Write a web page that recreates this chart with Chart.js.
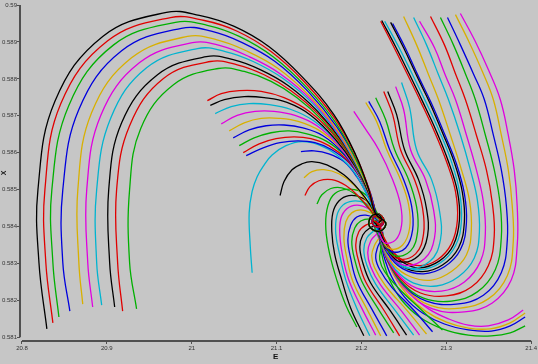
<!DOCTYPE html>
<html><head><meta charset="utf-8">
<script src="https://cdn.jsdelivr.net/npm/chart.js@4.4.1/dist/chart.umd.min.js"></script>
<style>html,body{margin:0;padding:0;background:#c6c6c6;}canvas{display:block;}</style>
</head><body>
<canvas id="c" width="538" height="364"></canvas>
<script>
const E_TICKS = [20.8, 20.9, 21.0, 21.1, 21.2, 21.3, 21.4];
const X_TICKS = [0.581, 0.582, 0.583, 0.584, 0.585, 0.586, 0.587, 0.588, 0.589, 0.59];

// Big arches on the left
const arches = [
[[20.8293,0.58123],[20.8200,0.58302],[20.8188,0.58500],[20.8388,0.58739],[20.8951,0.58915],[20.9702,0.58980],[21.0090,0.58972],[21.0501,0.58942],[21.0912,0.58887],[21.1299,0.58806],[21.1675,0.58703],[21.1933,0.58594],[21.2086,0.58500],[21.2168,0.58434]],
[[20.8364,0.58139],[20.8281,0.58302],[20.8270,0.58500],[20.8458,0.58733],[20.9010,0.58903],[20.9750,0.58966],[21.0149,0.58958],[21.0536,0.58929],[21.0935,0.58874],[21.1323,0.58793],[21.1686,0.58693],[21.1945,0.58586],[21.2098,0.58495],[21.2168,0.58431]],
[[20.8435,0.58155],[20.8364,0.58302],[20.8352,0.58500],[20.8552,0.58728],[20.9080,0.58892],[20.9808,0.58953],[21.0184,0.58945],[21.0560,0.58915],[21.0959,0.58860],[21.1346,0.58779],[21.1698,0.58681],[21.1945,0.58578],[21.2098,0.58492],[21.2168,0.58429]],
[[20.8564,0.58171],[20.8481,0.58302],[20.8481,0.58500],[20.8670,0.58717],[20.9174,0.58876],[20.9878,0.58937],[21.0230,0.58929],[21.0595,0.58898],[21.0982,0.58847],[21.1370,0.58766],[21.1710,0.58670],[21.1957,0.58573],[21.2109,0.58489],[21.2180,0.58429]],
[[20.8716,0.58190],[20.8670,0.58302],[20.8658,0.58500],[20.8821,0.58709],[20.9291,0.58857],[20.9949,0.58915],[21.0289,0.58906],[21.0642,0.58876],[21.1018,0.58828],[21.1394,0.58752],[21.1722,0.58659],[21.1957,0.58565],[21.2109,0.58484],[21.2180,0.58426]],
[[20.8833,0.58182],[20.8775,0.58302],[20.8763,0.58500],[20.8928,0.58701],[20.9386,0.58844],[21.0008,0.58898],[21.0337,0.58890],[21.0677,0.58860],[21.1041,0.58814],[21.1417,0.58741],[21.1734,0.58651],[21.1969,0.58559],[21.2109,0.58481],[21.2180,0.58426]],
[[20.8939,0.58187],[20.8880,0.58302],[20.8880,0.58500],[20.9045,0.58693],[20.9468,0.58830],[21.0067,0.58882],[21.0395,0.58874],[21.0724,0.58847],[21.1076,0.58801],[21.1441,0.58730],[21.1746,0.58643],[21.1969,0.58554],[21.2121,0.58478],[21.2180,0.58423]],
[[20.9092,0.58182],[20.9033,0.58302],[20.9022,0.58500],[20.9174,0.58681],[20.9597,0.58811],[21.0172,0.58860],[21.0489,0.58852],[21.0807,0.58825],[21.1135,0.58782],[21.1476,0.58714],[21.1769,0.58632],[21.1981,0.58546],[21.2121,0.58472],[21.2192,0.58423]],
[[20.9186,0.58171],[20.9127,0.58302],[20.9115,0.58500],[20.9268,0.58673],[20.9667,0.58801],[21.0219,0.58847],[21.0536,0.58838],[21.0854,0.58811],[21.1170,0.58768],[21.1499,0.58703],[21.1781,0.58624],[21.1992,0.58540],[21.2133,0.58469],[21.2192,0.58421]],
[[20.9350,0.58177],[20.9268,0.58302],[20.9268,0.58500],[20.9398,0.58665],[20.9785,0.58784],[21.0313,0.58828],[21.0619,0.58820],[21.0935,0.58793],[21.1241,0.58749],[21.1534,0.58689],[21.1804,0.58613],[21.2004,0.58532],[21.2133,0.58467],[21.2192,0.58421]]
];
const archColors = ['black','red','green','blue','yellow','magenta','cyan','black','red','green'];

// Short flaps in the middle
const flaps = [
[[21.0184,0.58741],[21.0348,0.58760],[21.0560,0.58768],[21.0818,0.58766],[21.1088,0.58749],[21.1382,0.58712],[21.1675,0.58648],[21.1910,0.58573],[21.2086,0.58489],[21.2180,0.58423]],
[[21.0219,0.58728],[21.0384,0.58744],[21.0619,0.58752],[21.0854,0.58749],[21.1123,0.58736],[21.1405,0.58701],[21.1686,0.58638],[21.1921,0.58565],[21.2098,0.58484],[21.2180,0.58423]],
[[21.0277,0.58706],[21.0465,0.58725],[21.0677,0.58733],[21.0912,0.58730],[21.1170,0.58717],[21.1441,0.58686],[21.1710,0.58630],[21.1933,0.58559],[21.2098,0.58481],[21.2192,0.58423]],
[[21.0348,0.58678],[21.0536,0.58701],[21.0747,0.58712],[21.0971,0.58712],[21.1217,0.58701],[21.1476,0.58673],[21.1734,0.58619],[21.1945,0.58551],[21.2109,0.58478],[21.2192,0.58421]],
[[21.0442,0.58659],[21.0619,0.58681],[21.0818,0.58693],[21.1029,0.58693],[21.1264,0.58684],[21.1511,0.58659],[21.1757,0.58611],[21.1957,0.58546],[21.2109,0.58476],[21.2192,0.58421]],
[[21.0489,0.58640],[21.0677,0.58662],[21.0877,0.58673],[21.1088,0.58675],[21.1311,0.58667],[21.1546,0.58646],[21.1781,0.58600],[21.1969,0.58540],[21.2121,0.58472],[21.2192,0.58421]],
[[21.0560,0.58619],[21.0736,0.58640],[21.0935,0.58654],[21.1147,0.58659],[21.1358,0.58651],[21.1581,0.58632],[21.1804,0.58592],[21.1981,0.58535],[21.2121,0.58469],[21.2192,0.58418]],
[[21.0607,0.58600],[21.0795,0.58624],[21.0994,0.58638],[21.1206,0.58643],[21.1405,0.58638],[21.1616,0.58619],[21.1828,0.58581],[21.1992,0.58530],[21.2133,0.58467],[21.2192,0.58418]],
[[21.0642,0.58592],[21.0842,0.58613],[21.1041,0.58627],[21.1253,0.58632],[21.1452,0.58627],[21.1651,0.58608],[21.1851,0.58573],[21.2004,0.58524],[21.2133,0.58464],[21.2192,0.58418]]
];
const flapColors = ['red','black','cyan','magenta','yellow','blue','green','red','blue'];

// Single curves left of the focus
const singles = [
[[21.0712,0.58275],[21.0689,0.58350],[21.0677,0.58437],[21.0712,0.58495],[21.0771,0.58535],[21.0854,0.58567],[21.0947,0.58594],[21.1111,0.58619],[21.1299,0.58630],[21.1499,0.58621],[21.1710,0.58594],[21.1910,0.58549],[21.2063,0.58486],[21.2168,0.58429]],
[[21.1287,0.58603],[21.1441,0.58605],[21.1616,0.58597],[21.1793,0.58576],[21.1945,0.58535],[21.2086,0.58478],[21.2180,0.58426]],
[[21.1041,0.58484],[21.1088,0.58522],[21.1182,0.58554],[21.1299,0.58570],[21.1417,0.58576],[21.1593,0.58567],[21.1793,0.58540],[21.1969,0.58500],[21.2109,0.58456],[21.2180,0.58423]],
[[21.1323,0.58532],[21.1417,0.58549],[21.1558,0.58554],[21.1734,0.58543],[21.1910,0.58513],[21.2051,0.58472],[21.2168,0.58429]],
[[21.1334,0.58484],[21.1394,0.58508],[21.1499,0.58524],[21.1651,0.58527],[21.1816,0.58511],[21.1969,0.58481],[21.2098,0.58448],[21.2180,0.58423]],
[[21.1476,0.58461],[21.1534,0.58486],[21.1639,0.58503],[21.1769,0.58505],[21.1921,0.58489],[21.2051,0.58458],[21.2168,0.58426]]
];
const singleColors = ['cyan','blue','black','yellow','red','green'];

// Curves rising from the bottom
const bottoms = [
[[21.1945,0.58128],[21.1816,0.58187],[21.1710,0.58255],[21.1628,0.58323],[21.1581,0.58391],[21.1593,0.58445],[21.1663,0.58484],[21.1793,0.58500],[21.1969,0.58497],[21.2109,0.58472],[21.2192,0.58434]],
[[21.2028,0.58104],[21.1874,0.58179],[21.1769,0.58255],[21.1686,0.58323],[21.1651,0.58386],[21.1663,0.58437],[21.1734,0.58469],[21.1851,0.58484],[21.2004,0.58478],[21.2133,0.58453],[21.2204,0.58423]],
[[21.2098,0.58104],[21.1945,0.58179],[21.1816,0.58255],[21.1746,0.58321],[21.1698,0.58380],[21.1710,0.58429],[21.1781,0.58458],[21.1898,0.58469],[21.2039,0.58464],[21.2156,0.58442],[21.2204,0.58421]],
[[21.2168,0.58106],[21.2004,0.58179],[21.1851,0.58255],[21.1781,0.58318],[21.1746,0.58375],[21.1757,0.58421],[21.1828,0.58448],[21.1945,0.58458],[21.2074,0.58450],[21.2168,0.58434]],
[[21.2227,0.58104],[21.2063,0.58177],[21.1898,0.58252],[21.1828,0.58315],[21.1793,0.58369],[21.1816,0.58413],[21.1886,0.58437],[21.1992,0.58445],[21.2109,0.58437],[21.2192,0.58421]],
[[21.2298,0.58104],[21.2121,0.58177],[21.1945,0.58252],[21.1874,0.58313],[21.1840,0.58364],[21.1874,0.58404],[21.1945,0.58426],[21.2051,0.58431],[21.2156,0.58423],[21.2204,0.58412]],
[[21.2380,0.58112],[21.2192,0.58179],[21.2004,0.58252],[21.1921,0.58310],[21.1886,0.58359],[21.1921,0.58396],[21.1992,0.58415],[21.2098,0.58421],[21.2180,0.58415]],
[[21.2450,0.58104],[21.2263,0.58174],[21.2051,0.58250],[21.1969,0.58305],[21.1933,0.58350],[21.1969,0.58386],[21.2051,0.58404],[21.2156,0.58410]],
[[21.2532,0.58106],[21.2333,0.58174],[21.2109,0.58247],[21.2016,0.58302],[21.1981,0.58345],[21.2016,0.58377],[21.2098,0.58396],[21.2192,0.58404]],
[[21.2615,0.58106],[21.2403,0.58171],[21.2168,0.58244],[21.2063,0.58296],[21.2028,0.58337],[21.2063,0.58369],[21.2145,0.58388],[21.2216,0.58399]],
[[21.2685,0.58106],[21.2473,0.58171],[21.2227,0.58241],[21.2109,0.58291],[21.2074,0.58329],[21.2109,0.58361],[21.2180,0.58380],[21.2227,0.58394]],
[[21.2767,0.58109],[21.2544,0.58171],[21.2286,0.58239],[21.2156,0.58288],[21.2121,0.58321],[21.2156,0.58350],[21.2216,0.58372],[21.2239,0.58388]],
[[21.2838,0.58115],[21.2615,0.58174],[21.2356,0.58236],[21.2216,0.58283],[21.2168,0.58315],[21.2192,0.58345],[21.2239,0.58367],[21.2251,0.58386]],
[[21.2955,0.58120],[21.2708,0.58174],[21.2438,0.58233],[21.2274,0.58278],[21.2216,0.58310],[21.2227,0.58337],[21.2263,0.58361],[21.2251,0.58383]]
];
const bottomColors = ['green','black','cyan','magenta','yellow','blue','green','red','black','cyan','magenta','yellow','blue','green'];

// Curves entering from the right edge, low
const rights = [
[[21.3906,0.58174],[21.3730,0.58147],[21.3495,0.58131],[21.3260,0.58133],[21.3025,0.58150],[21.2791,0.58177],[21.2579,0.58217],[21.2415,0.58272],[21.2310,0.58332],[21.2251,0.58377],[21.2216,0.58407]],
[[21.3929,0.58166],[21.3753,0.58139],[21.3518,0.58123],[21.3260,0.58125],[21.3002,0.58141],[21.2755,0.58171],[21.2544,0.58214],[21.2380,0.58269],[21.2286,0.58326],[21.2239,0.58372],[21.2216,0.58404]],
[[21.3929,0.58155],[21.3753,0.58131],[21.3530,0.58117],[21.3260,0.58120],[21.2978,0.58136],[21.2720,0.58166],[21.2508,0.58209],[21.2356,0.58264],[21.2263,0.58321],[21.2227,0.58367],[21.2204,0.58402]],
[[21.3929,0.58131],[21.3753,0.58112],[21.3530,0.58104],[21.3260,0.58106],[21.2955,0.58123],[21.2685,0.58155],[21.2473,0.58201],[21.2333,0.58255],[21.2251,0.58313],[21.2216,0.58361],[21.2204,0.58396]]
];
const rightColors = ['magenta','yellow','blue','green'];

// Curves falling from the top right, looping under the focus
const tops = [
[[21.2227,0.58956],[21.2380,0.58887],[21.2544,0.58811],[21.2696,0.58739],[21.2861,0.58657],[21.3002,0.58576],[21.3108,0.58495],[21.3131,0.58418],[21.3060,0.58353],[21.2896,0.58310],[21.2696,0.58294],[21.2497,0.58307],[21.2344,0.58340],[21.2251,0.58377],[21.2204,0.58407]],
[[21.2239,0.58958],[21.2403,0.58887],[21.2568,0.58811],[21.2720,0.58739],[21.2885,0.58657],[21.3025,0.58576],[21.3131,0.58495],[21.3155,0.58418],[21.3084,0.58350],[21.2920,0.58307],[21.2685,0.58288],[21.2497,0.58302],[21.2333,0.58337],[21.2239,0.58375],[21.2204,0.58404]],
[[21.2274,0.58956],[21.2438,0.58887],[21.2603,0.58811],[21.2755,0.58739],[21.2920,0.58657],[21.3060,0.58576],[21.3155,0.58495],[21.3178,0.58415],[21.3108,0.58348],[21.2931,0.58302],[21.2685,0.58283],[21.2485,0.58296],[21.2321,0.58334],[21.2239,0.58372],[21.2204,0.58402]],
[[21.2344,0.58953],[21.2497,0.58884],[21.2650,0.58809],[21.2803,0.58736],[21.2955,0.58654],[21.3095,0.58573],[21.3190,0.58492],[21.3213,0.58413],[21.3143,0.58342],[21.2955,0.58296],[21.2720,0.58278],[21.2485,0.58291],[21.2321,0.58329],[21.2227,0.58369],[21.2204,0.58399]],
[[21.2368,0.58950],[21.2520,0.58882],[21.2673,0.58806],[21.2826,0.58733],[21.2978,0.58651],[21.3119,0.58570],[21.3213,0.58489],[21.3237,0.58410],[21.3166,0.58337],[21.2978,0.58291],[21.2732,0.58272],[21.2485,0.58286],[21.2310,0.58326],[21.2227,0.58367],[21.2192,0.58399]],
[[21.2497,0.58969],[21.2650,0.58892],[21.2791,0.58811],[21.2908,0.58744],[21.3048,0.58648],[21.3178,0.58554],[21.3272,0.58472],[21.3295,0.58391],[21.3237,0.58323],[21.3060,0.58278],[21.2826,0.58255],[21.2579,0.58264],[21.2380,0.58296],[21.2263,0.58342],[21.2204,0.58391]],
[[21.2615,0.58966],[21.2767,0.58892],[21.2908,0.58811],[21.3025,0.58744],[21.3166,0.58648],[21.3283,0.58554],[21.3366,0.58472],[21.3390,0.58386],[21.3330,0.58315],[21.3143,0.58264],[21.2885,0.58239],[21.2615,0.58247],[21.2403,0.58283],[21.2274,0.58332],[21.2204,0.58383]],
[[21.2685,0.58956],[21.2861,0.58884],[21.2990,0.58809],[21.3108,0.58744],[21.3237,0.58648],[21.3354,0.58554],[21.3437,0.58467],[21.3460,0.58380],[21.3401,0.58305],[21.3213,0.58250],[21.2943,0.58225],[21.2650,0.58233],[21.2426,0.58272],[21.2286,0.58323],[21.2216,0.58377]],
[[21.2814,0.58969],[21.2978,0.58892],[21.3108,0.58814],[21.3225,0.58744],[21.3354,0.58648],[21.3472,0.58554],[21.3542,0.58464],[21.3565,0.58375],[21.3495,0.58294],[21.3295,0.58236],[21.3002,0.58212],[21.2696,0.58220],[21.2450,0.58261],[21.2298,0.58315],[21.2216,0.58372]],
[[21.2931,0.58966],[21.3084,0.58892],[21.3225,0.58814],[21.3342,0.58744],[21.3460,0.58648],[21.3565,0.58554],[21.3636,0.58458],[21.3648,0.58369],[21.3577,0.58283],[21.3366,0.58223],[21.3060,0.58198],[21.2732,0.58206],[21.2473,0.58250],[21.2310,0.58307],[21.2216,0.58367]],
[[21.3014,0.58966],[21.3166,0.58892],[21.3319,0.58814],[21.3448,0.58744],[21.3554,0.58648],[21.3648,0.58554],[21.3707,0.58458],[21.3719,0.58364],[21.3648,0.58275],[21.3437,0.58214],[21.3119,0.58190],[21.2767,0.58198],[21.2497,0.58241],[21.2321,0.58302],[21.2216,0.58364]],
[[21.3108,0.58974],[21.3272,0.58898],[21.3425,0.58820],[21.3554,0.58744],[21.3648,0.58648],[21.3730,0.58554],[21.3777,0.58456],[21.3789,0.58359],[21.3719,0.58267],[21.3495,0.58204],[21.3166,0.58179],[21.2803,0.58187],[21.2520,0.58233],[21.2333,0.58296],[21.2227,0.58359]],
[[21.3166,0.58977],[21.3342,0.58901],[21.3495,0.58825],[21.3636,0.58744],[21.3730,0.58648],[21.3800,0.58554],[21.3836,0.58453],[21.3836,0.58350],[21.3765,0.58255],[21.3542,0.58193],[21.3213,0.58169],[21.2838,0.58177],[21.2544,0.58223],[21.2344,0.58288],[21.2227,0.58356]]
];
const topColors = ['red','black','cyan','black','blue','yellow','cyan','magenta','red','green','blue','yellow','magenta'];

// Inner loops starting above the focus
const inners = [
[[21.1910,0.58712],[21.2039,0.58667],[21.2204,0.58608],[21.2368,0.58527],[21.2461,0.58459],[21.2473,0.58404],[21.2403,0.58364],[21.2274,0.58356],[21.2204,0.58383]],
[[21.2051,0.58736],[21.2180,0.58684],[21.2298,0.58608],[21.2461,0.58527],[21.2556,0.58459],[21.2568,0.58396],[21.2485,0.58350],[21.2333,0.58340],[21.2227,0.58369]],
[[21.2086,0.58739],[21.2216,0.58684],[21.2333,0.58608],[21.2497,0.58527],[21.2591,0.58456],[21.2603,0.58391],[21.2520,0.58342],[21.2356,0.58332],[21.2239,0.58364]],
[[21.2168,0.58749],[21.2286,0.58689],[21.2391,0.58608],[21.2556,0.58527],[21.2650,0.58453],[21.2662,0.58386],[21.2579,0.58334],[21.2391,0.58321],[21.2251,0.58356]],
[[21.2263,0.58766],[21.2368,0.58703],[21.2461,0.58608],[21.2626,0.58527],[21.2720,0.58450],[21.2732,0.58380],[21.2638,0.58326],[21.2426,0.58313],[21.2263,0.58350]],
[[21.2310,0.58766],[21.2415,0.58703],[21.2508,0.58608],[21.2673,0.58527],[21.2767,0.58448],[21.2779,0.58375],[21.2673,0.58321],[21.2450,0.58305],[21.2274,0.58345]],
[[21.2403,0.58779],[21.2497,0.58717],[21.2579,0.58608],[21.2755,0.58527],[21.2850,0.58445],[21.2861,0.58369],[21.2743,0.58313],[21.2485,0.58296],[21.2286,0.58340]],
[[21.2473,0.58790],[21.2568,0.58722],[21.2650,0.58608],[21.2826,0.58527],[21.2920,0.58442],[21.2931,0.58364],[21.2803,0.58305],[21.2520,0.58288],[21.2298,0.58334]]
];
const innerColors = ['magenta','yellow','blue','green','red','black','magenta','cyan'];

// Last turns of the spiral around the focus
const coreWide = [[21.2286,0.58410],[21.2227,0.58388],[21.2109,0.58396],[21.2098,0.58421],[21.2180,0.58434],[21.2239,0.58421],[21.2204,0.58410]];
const coreTight = [[21.2263,0.58413],[21.2204,0.58399],[21.2133,0.58407],[21.2145,0.58426],[21.2204,0.58426],[21.2216,0.58415]];
const coreFromBelow = [[21.2133,0.58418],[21.2192,0.58434],[21.2263,0.58418],[21.2204,0.58404],[21.2168,0.58415]];

const PALETTE = {black:'#000000', red:'#e00000', green:'#00b000', blue:'#0000dd', yellow:'#d8b000', magenta:'#e000e0', cyan:'#00b4d0'};

const datasets = [];
function addGroup(curves, colors, tailFor){
  curves.forEach((c, i) => {
    const tail = tailFor ? tailFor(i) : [];
    const pts = c.concat(tail);
    datasets.push({
      data: pts.map(p => ({x: p[0], y: p[1]})),
      borderColor: PALETTE[colors[i]],
      borderWidth: 1.3,
      pointRadius: 0,
      showLine: true,
      fill: false,
      tension: 0.4
    });
  });
}
addGroup(arches, archColors, i => (i % 2 ? coreTight : coreWide));
addGroup(flaps, flapColors, i => (i % 2 ? coreWide : coreTight));
addGroup(singles, singleColors);
addGroup(inners, innerColors);
addGroup(tops, topColors, i => (i % 3 === 0 ? coreFromBelow : []));
addGroup(bottoms, bottomColors, i => (i < 5 ? (i % 2 ? coreTight : coreWide) : []));
addGroup(rights, rightColors, i => (i % 2 ? coreFromBelow : []));

const axisLines = {
  id: 'axisLines',
  afterDraw(chart){
    const ctx = chart.ctx, xs = chart.scales.x, ys = chart.scales.y;
    ctx.save();
    ctx.strokeStyle = '#505050';
    ctx.lineWidth = 2;
    ctx.beginPath();
    ctx.moveTo(chart.chartArea.left, ys.getPixelForValue(X_TICKS[X_TICKS.length-1]));
    ctx.lineTo(chart.chartArea.left, ys.getPixelForValue(X_TICKS[0]));
    ctx.moveTo(xs.getPixelForValue(E_TICKS[0]), chart.chartArea.bottom);
    ctx.lineTo(xs.getPixelForValue(E_TICKS[E_TICKS.length-1]), chart.chartArea.bottom);
    ctx.stroke();
    ctx.restore();
  }
};

new Chart(document.getElementById('c'), {
  type: 'scatter',
  data: {datasets},
  plugins: [axisLines],
  options: {
    responsive: false,
    animation: false,
    devicePixelRatio: 1,
    layout: {padding: {top: 5, right: 5, left: 0, bottom: 0}},
    plugins: {legend: {display: false}, tooltip: {enabled: false}},
    scales: {
      x: {
        type: 'linear', min: 20.79765, max: 21.4,
        afterBuildTicks: s => { s.ticks = E_TICKS.map(v => ({value: v})); },
        afterFit: s => { s.height = 23; },
        grid: {drawOnChartArea: false, drawTicks: true, tickLength: 3, color: '#505050', lineWidth: 1},
        border: {display: false},
        ticks: {padding: 1, color: '#333', font: {family: 'Liberation Sans', size: 6}, maxRotation: 0,
                callback: v => String(Math.round(v * 10) / 10)},
        title: {display: true, text: 'E', color: '#111', font: {family: 'Liberation Sans', size: 8, weight: 'bold'}, padding: {top: 0, bottom: 2}}
      },
      y: {
        type: 'linear', min: 0.5809, max: 0.59,
        afterBuildTicks: s => { s.ticks = X_TICKS.map(v => ({value: v})); },
        afterFit: s => { s.width = 20; },
        grid: {drawOnChartArea: false, drawTicks: true, tickLength: 3, color: '#505050', lineWidth: 1},
        border: {display: false},
        ticks: {padding: 0, color: '#333', font: {family: 'Liberation Sans', size: 6},
                callback: v => String(Math.round(v * 1000) / 1000)},
        title: {display: true, text: 'X', color: '#111', font: {family: 'Liberation Sans', size: 7, weight: 'bold'}, padding: 0}
      }
    }
  }
});
</script>
</body></html>
